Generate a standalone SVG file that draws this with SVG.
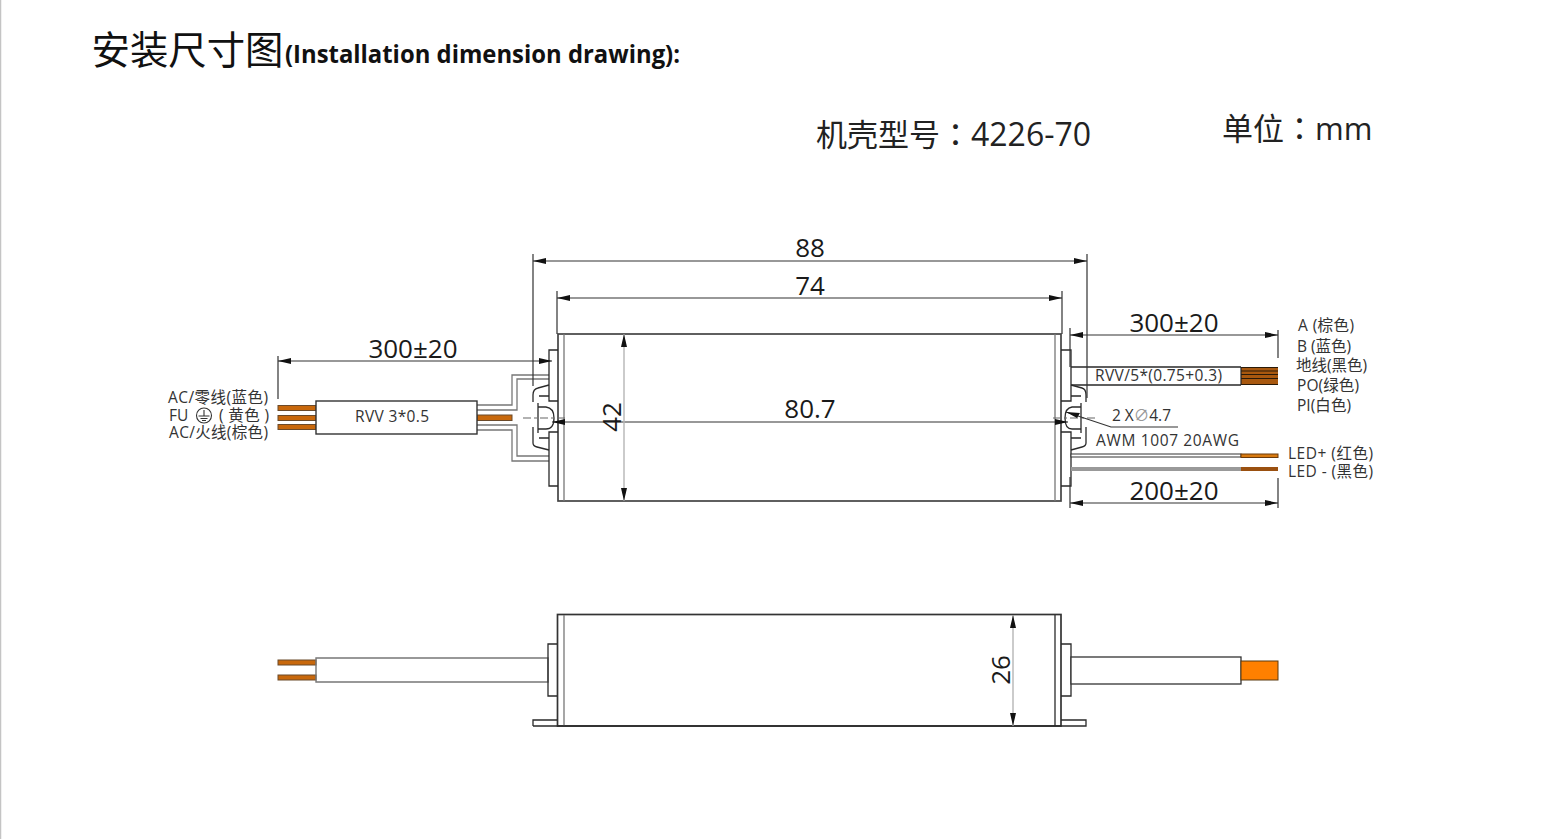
<svg xmlns="http://www.w3.org/2000/svg" width="1541" height="839" viewBox="0 0 1541 839">
<style>
text{font-family:"Open Sans","Noto Sans CJK SC",sans-serif;fill:#222}
.d{font-size:26px;text-anchor:middle;fill:#1a1a1a}
.l{font-size:15.500px;fill:#333}
.t{font-size:15.500px;fill:#333}
.c{font-family:"Noto Sans CJK TC",sans-serif}
.k{fill:none;stroke:#2a2a2a;stroke-width:1.3}
.g{fill:none;stroke:#444;stroke-width:1.7}
.lg{fill:none;stroke:#777;stroke-width:1.3}
.dim{fill:none;stroke:#333;stroke-width:1.2}
.dg{fill:none;stroke:#b5b5b5;stroke-width:1.4}
.w{fill:#fff;stroke:#333;stroke-width:1.4}
.o{fill:#c8680c;stroke:#6b4a2a;stroke-width:1}
</style>
<defs>
<marker id="a" markerUnits="userSpaceOnUse" markerWidth="14" markerHeight="8" refX="13" refY="4" orient="auto-start-reverse"><path d="M0 1 L13 4 L0 7Z" fill="#111"/></marker>
</defs>
<rect width="1541" height="839" fill="#fff"/>
<line x1="0.5" y1="0" x2="0.5" y2="839" stroke="#c4c4c4" stroke-width="1.5"/>
<g id="header">
<text x="91.500" y="64" style="font-size:38.400px;font-family:'Noto Sans CJK SC',sans-serif;fill:#111">安装尺寸图</text>
<text x="285" y="63" style="font-size:25px;font-weight:700;fill:#111" textLength="395" lengthAdjust="spacingAndGlyphs">(Installation dimension drawing):</text>
<text x="816" y="146" style="font-size:31px;fill:#222">机壳型号<tspan class="c" x="940">：</tspan><tspan x="971" style="font-size:32px">4226-70</tspan></text>
<text x="1222" y="140" style="font-size:31px;fill:#222">单位<tspan class="c" x="1284">：</tspan><tspan x="1315">mm</tspan></text>
</g>
<g id="top-view">
<g id="top-left-cable">
<path class="lg" d="M477 405H512V375H549M477 410H517V379H549M477 425H517V456H549M477 430H512V461H549"/>
<rect class="o" x="278" y="405.500" width="38" height="5"/>
<rect class="o" x="278" y="415.500" width="38" height="5"/>
<rect class="o" x="278" y="424.500" width="38" height="5"/>
<rect class="o" x="477" y="415" width="35" height="5.500"/>
<rect class="w" x="316" y="401" width="161" height="33"/>
<text class="t" x="355" y="422" textLength="74">RVV 3*0.5</text>
</g>
<g id="top-body">
<rect class="g" x="558" y="334" width="503" height="167"/>
<path class="lg" d="M564 334V501M1055 334V501"/>
</g>
<g id="top-left-flange">
<path class="k" d="M558 401H549V350H558M558 432H549V486H558"/>
<path class="k" d="M549 385L538 388Q533 389 533 395V402M533 427V443Q533 446 537 447L549 450"/>
<path class="k" d="M539 396H549M539 438H549M538 403V433M538 407H546Q554 408 554 418Q554 429 546 429H538"/>
<path d="M523 418H565" fill="none" stroke="#666" stroke-width="1.2" stroke-dasharray="8 3 3 3"/>
</g>
<g id="top-right-flange">
<path class="k" d="M1061 401H1071V350H1061M1061 432H1071V486H1061"/>
<path class="k" d="M1071 385L1082 388Q1086 389 1086 395V402M1086 427V443Q1086 446 1082 447L1071 450"/>
<path class="k" d="M1071 396H1081M1071 438H1081M1081 403V433M1081 407H1072Q1065 408 1065 418Q1065 429 1072 429H1081"/>
<path d="M1053 418H1095" fill="none" stroke="#666" stroke-width="1.2" stroke-dasharray="8 3 3 3"/>
<path class="dim" d="M1066 412L1111 427H1178"/>
<path d="M1066 412L1080 413L1077 418Z" fill="#111"/>
</g>
<g id="top-right-cables">
<path d="M1071 367H1241M1071 385H1241" class="k"/>
<rect x="1241" y="367" width="37" height="18" fill="#a8580f"/>
<path d="M1241 367.500H1278M1241 371H1278M1241 374.500H1278M1241 378.500H1278M1241 384.500H1278" stroke="#2a1a08" stroke-width="1.2"/>
<path d="M1241 367V385" stroke="#222" stroke-width="1.2"/>
<rect x="1071" y="454" width="170" height="3" fill="#fff" stroke="#333" stroke-width="1"/>
<rect x="1241" y="454" width="37" height="3.500" fill="#d87a10" stroke="#6b3a0a" stroke-width="1"/>
<rect x="1071" y="467" width="170" height="4" fill="#999"/>
<rect x="1241" y="467" width="37" height="4" fill="#9a5010"/>
</g>
<g id="top-labels">
<text class="t" x="1095" y="381" textLength="127">RVV/5*(0.75+0.3)</text>
<text class="t" x="1112" y="421" textLength="59">2 X<tspan fill="#999" style="fill:#999">∅</tspan>4.7</text>
<text class="t" x="1096" y="446" textLength="143">AWM 1007 20AWG</text>
<text class="l" x="168" y="403" textLength="100">AC/零线(蓝色)</text>
<text class="l" x="169" y="421">FU</text>
<circle cx="204" cy="415.500" r="7.500" fill="none" stroke="#333" stroke-width="1.1"/>
<path d="M204 410V416M198.500 416H209.500M200.500 418.500H207.500M202 420.500H206" fill="none" stroke="#333" stroke-width="1.1"/>
<text class="l" x="219" y="421" textLength="50">( 黄色 )</text>
<text class="l" x="169" y="438" textLength="99">AC/火线(棕色)</text>
<text class="l" x="1298" y="331" textLength="56">A (棕色)</text>
<text class="l" x="1297" y="352" textLength="54">B (蓝色)</text>
<text class="l" x="1296" y="371" textLength="71">地线(黑色)</text>
<text class="l" x="1297" y="391" textLength="62">PO(绿色)</text>
<text class="l" x="1297" y="411" textLength="54">PI(白色)</text>
<text class="l" x="1288" y="459" textLength="85">LED+ (红色)</text>
<text class="l" x="1288" y="477" textLength="85">LED - (黑色)</text>
</g>
</g>
<g id="dimensions-top">
<path class="dim" d="M533 254V386M1087 254V398M557 291V334M1062 291V334M278 356V399M1070 328V367M1070 477V508M1278 330V358M1278 478V508"/>
<path class="dim" d="M533 261H1087" marker-start="url(#a)" marker-end="url(#a)"/>
<path class="dim" d="M557 298H1062" marker-start="url(#a)" marker-end="url(#a)"/>
<path class="dim" d="M278 361H552" marker-start="url(#a)" marker-end="url(#a)"/>
<path class="dim" d="M1070 335H1278" marker-start="url(#a)" marker-end="url(#a)"/>
<path class="dim" d="M1070 503H1278" marker-start="url(#a)" marker-end="url(#a)"/>
<path class="dim" d="M552 422H1068" marker-start="url(#a)" marker-end="url(#a)"/>
<path class="dg" d="M624 334V501" marker-start="url(#a)" marker-end="url(#a)"/>
<text class="d" x="810" y="257">88</text>
<text class="d" x="810" y="295">74</text>
<text class="d" x="413" y="358">300±20</text>
<text class="d" x="1174" y="332">300±20</text>
<text class="d" x="1174" y="500">200±20</text>
<text class="d" x="810" y="418">80.7</text>
<text class="d" transform="translate(620.500 417) rotate(-90)">42</text>
</g>
<g id="side-view">
<g id="side-left-cable">
<rect x="278" y="660" width="38" height="5" class="o"/>
<rect x="278" y="675" width="38" height="5" class="o"/>
<path class="lg" d="M316 658H548V682H316Z" style="stroke-width:1.4"/>
</g>
<g id="side-body">
<rect class="g" x="557.500" y="614.500" width="503.500" height="111.500" style="stroke:#333"/>
<path class="lg" d="M564 615V726"/>
<path class="k" d="M1055 615V726"/>
<path class="k" d="M557 644H548V696H557M533 726V720H557M1061 644H1071V696H1061M1061 720H1086V726H1061M533 726H1086"/>
</g>
<g id="side-right-cable">
<rect x="1071" y="657" width="170" height="27" fill="#fff" stroke="#333" stroke-width="1.3"/>
<rect x="1241" y="661" width="37" height="19" fill="#ff8000" stroke="#5a3a10" stroke-width="1"/>
</g>
<path class="dg" d="M1013 615V726" marker-start="url(#a)" marker-end="url(#a)"/>
<text class="d" transform="translate(1010 670) rotate(-90)">26</text>
</g>
</svg>
